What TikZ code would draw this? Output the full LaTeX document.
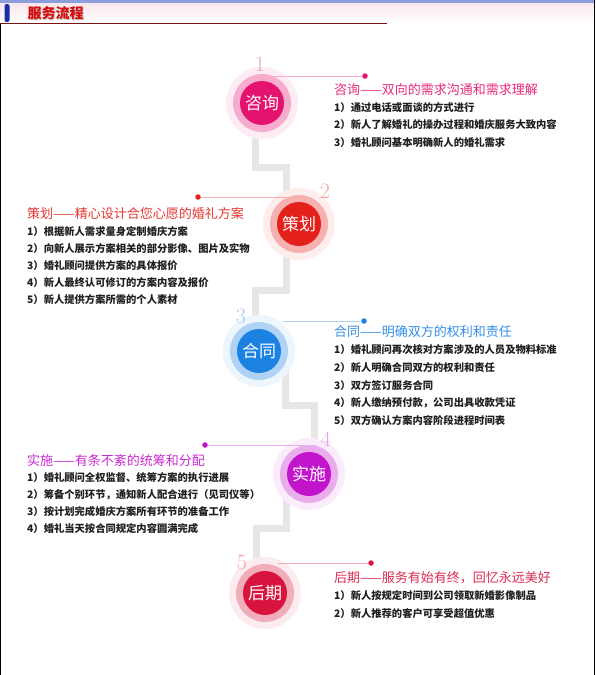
\documentclass[tikz,border=0pt]{standalone}
\usepackage{fontspec}
\newfontfamily\cjk{Noto Sans CJK SC}
\definecolor{askrose}{HTML}{E4136F}
\definecolor{planred}{HTML}{E3201A}
\definecolor{dealblue}{HTML}{1C82E2}
\definecolor{workviolet}{HTML}{C214CA}
\definecolor{aftercrimson}{HTML}{D8143E}
\definecolor{trailgrey}{HTML}{E6E6E6}
\definecolor{topband}{HTML}{8C9EDC}
\definecolor{headpink}{HTML}{F9E6EC}
\definecolor{headblue}{HTML}{1A2FA6}
\definecolor{headline}{HTML}{7A1414}
\definecolor{headred}{HTML}{D80A0A}

\begin{document}
\begin{tikzpicture}[
    x=1pt, y=-1pt,
    halo/.style={circle, inner sep=0pt, minimum size=72pt},
    ring/.style={circle, inner sep=0pt, minimum size=58pt},
    core/.style={circle, inner sep=0pt, minimum size=44pt, text=white, font=\cjk\fontsize{17}{17}\selectfont},
    stepnum/.style={inner sep=0pt, font=\fontsize{22}{22}\selectfont},
    stepdot/.style={circle, inner sep=0pt, minimum size=5.5pt},
    stepline/.style={line width=0.9pt},
    steptitle/.style={anchor=west, inner sep=0pt, font=\cjk\fontsize{13}{13}\selectfont},
    stepitem/.style={anchor=west, inner sep=0pt, text=black!88, font=\cjk\bfseries\fontsize{10.3}{10.3}\selectfont},
    trail/.style={draw=trailgrey, line width=7pt}
]
\useasboundingbox (0,0) rectangle (596,675);

% Page frame and header
\fill[white] (0,0) rectangle (596,675);
\shade[top color=headpink, bottom color=white] (0,2) rectangle (594,23);
\fill[topband] (0,0) rectangle (595,2.5);
\draw[black, line width=1.2pt] (0.6,24) -- (0.6,675);
\draw[black, line width=1.2pt] (594.4,0) -- (594.4,675);
\fill[headblue, rounded corners=2pt] (4.5,4) rectangle (9.5,22);
\node[text=black!25, font=\cjk\bfseries\fontsize{14}{14}\selectfont] (headshade) at (56.5,14) {服务流程};
\node[text=headred, font=\cjk\bfseries\fontsize{14}{14}\selectfont] (head) at (55.5,13) {服务流程};
\draw[headline, line width=1.5pt] (0,23.5) -- (387,23.5);

% Circle centres
\foreach \n/\x/\y in {1/262/103, 2/299/224, 3/259/351, 4/309/474, 5/265/593}
  \coordinate (p\n) at (\x,\y);

% Stepped grey trail
\draw[trail] ([shift={(-7,0)}]p1) -- ++(0,64) -| ([shift={(-13,0)}]p2);
\draw[trail] ([shift={(-13,0)}]p2) -- ++(0,66) -| ([shift={(-4,0)}]p3);
\draw[trail] ([shift={(26,0)}]p3) -- ++(0,54) -| ([shift={(5,0)}]p4);
\draw[trail] ([shift={(-23,0)}]p4) -- ++(0,54) -| ([shift={(-9,0)}]p5);

% Halos
\foreach \n/\col in {1/askrose, 2/planred, 3/dealblue, 4/workviolet, 5/aftercrimson}
  \node[halo, fill=\col!8] (h\n) at (p\n) {};

% Number lines and dots
\foreach \n/\col/\dx/\dy/\ex in {1/askrose/365/76/266, 2/planred/198/197/289, 3/dealblue/364/321/283,
                                 4/workviolet/205/445/316, 5/aftercrimson/371/563/278} {
  \coordinate (e\n) at (\ex,\dy);
  \node[stepdot, fill=\col] (d\n) at (\dx,\dy) {};
  \draw[stepline, \col!35] (e\n) -- (d\n);
}

% Rings, cores, numbers
\foreach \n/\col/\lab/\nx/\ny in {1/askrose/咨询/260/64, 2/planred/策划/325/191, 3/dealblue/合同/241/316,
                                  4/workviolet/实施/326/439, 5/aftercrimson/后期/242/562} {
  \node[ring, fill=\col!35] (r\n) at (p\n) {};
  \node[core, fill=\col] (c\n) at (p\n) {\lab};
  \node[stepnum, text=\col!40] (n\n) at (\nx,\ny) {\n};
}

% Step 1
\node[steptitle, text=askrose!90] (t1) at (334,90) {咨询——双向的需求沟通和需求理解};
\foreach \txt [count=\i] in {1）通过电话或面谈的方式进行, 2）新人了解婚礼的操办过程和婚庆服务大致内容,
                            3）婚礼顾问基本明确新人的婚礼需求}
  \node[stepitem] (a\i) at (334,{90+17.5*\i}) {\txt};

% Step 2
\node[steptitle, text=planred!90] (t2) at (27,214) {策划——精心设计合您心愿的婚礼方案};
\foreach \txt [count=\i] in {1）根据新人需求量身定制婚庆方案, 2）向新人展示方案相关的部分影像、图片及实物,
                            3）婚礼顾问提供方案的具体报价, 4）新人最终认可修订的方案内容及报价,
                            5）新人提供方案所需的个人素材}
  \node[stepitem] (b\i) at (27,{214+17.2*\i}) {\txt};

% Step 3
\node[steptitle, text=dealblue!90] (t3) at (334,332) {合同——明确双方的权利和责任};
\foreach \txt [count=\i] in {1）婚礼顾问再次核对方案涉及的人员及物料标准, 2）新人明确合同双方的权利和责任,
                            3）双方签订服务合同, 4）新人缴纳预付款，公司出具收款凭证,
                            5）双方确认方案内容阶段进程时间表}
  \node[stepitem] (g\i) at (334,{332+17.8*\i}) {\txt};

% Step 4
\node[steptitle, text=workviolet!90] (t4) at (27,461) {实施——有条不紊的统筹和分配};
\foreach \txt [count=\i] in {1）婚礼顾问全权监督、统筹方案的执行进展, 2）筹备个别环节，通知新人配合进行（见司仪等）,
                            3）按计划完成婚庆方案所有环节的准备工作, 4）婚礼当天按合同规定内容圆满完成}
  \node[stepitem] (w\i) at (27,{461+16.8*\i}) {\txt};

% Step 5
\node[steptitle, text=aftercrimson!90] (t5) at (334,578) {后期——服务有始有终，回忆永远美好};
\foreach \txt [count=\i] in {1）新人按规定时间到公司领取新婚影像制品, 2）新人推荐的客户可享受超值优惠}
  \node[stepitem] (f\i) at (334,{578+17.8*\i}) {\txt};

\end{tikzpicture}
\end{document}
